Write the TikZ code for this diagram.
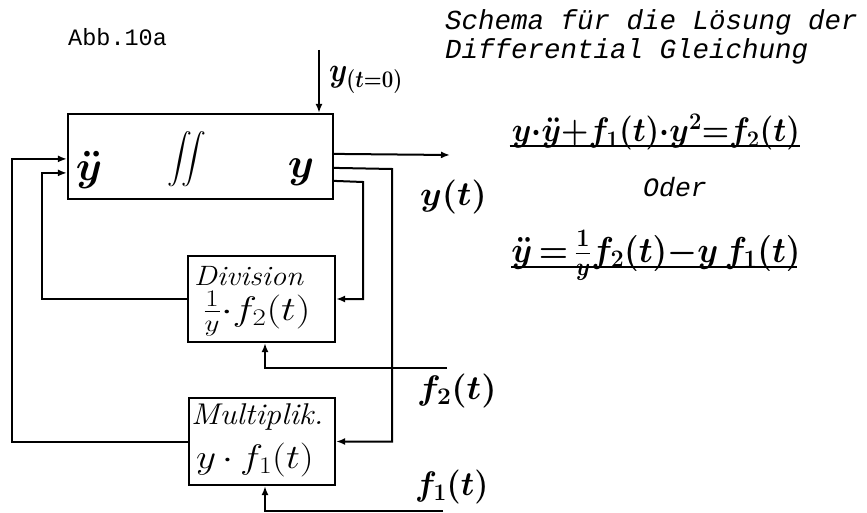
\RequirePackage{fix-cm}
\documentclass[tikz,border=0pt]{standalone}
\usepackage{amsmath}
\usepackage{graphicx}
\usepackage{fontspec}
\setmonofont{Liberation Mono}
\usetikzlibrary{arrows.meta,calc}
\newcommand{\hwx}[2]{\scalebox{#1}[1]{#2}}
\begin{document}
\begin{tikzpicture}[x=1pt,y=-1pt,
  blk/.style={draw, line width=2.2pt, inner sep=0pt},
  conn/.style={line width=2pt},
  arr/.style={conn, -{Latex[length=9pt,width=7pt]}},
  hand/.style={inner sep=0pt, font=\fontsize{34}{38}\selectfont\boldmath},
  thin/.style={inner sep=0pt, font=\fontsize{34}{38}\selectfont},
  big/.style={inner sep=0pt, font=\fontsize{42}{46}\selectfont\boldmath},
  monoup/.style={inner sep=0pt, anchor=west, font=\ttfamily\fontsize{23.5}{26}\selectfont},
  monoit/.style={inner sep=0pt, anchor=west, font=\ttfamily\itshape\fontsize{27.5}{30}\selectfont},
  uline/.style={line width=1.5pt}
  ]
\useasboundingbox (0,0) rectangle (867,513);

% blocks
\node[blk, minimum width=265pt, minimum height=85pt] (main) at (200.5,156.5) {};
\node[blk, minimum width=147pt, minimum height=86pt] (div) at (261.5,299) {};
\node[blk, minimum width=146pt, minimum height=87pt] (mult) at (262,441.5) {};

% block contents
\node[big] (ydd) at (89,170) {$\ddot{y}$};
\node[inner sep=0pt, font=\fontsize{30}{34}\selectfont\boldmath] (int) at (187,159) {$\displaystyle\iint$};
\node[big] (yo) at (301,172) {$y$};
\node[thin, anchor=west, font=\fontsize{28}{32}\selectfont] (divt) at (194,276) {\hwx{1.1}{\itshape Division}};
\node[thin, anchor=west] (divf) at (203,314) {\hwx{1.22}{$\frac{1}{y}{\cdot}f_2(t)$}};
\node[thin, anchor=west, font=\fontsize{30}{34}\selectfont] (multt) at (191,417) {\hwx{1.08}{\itshape Multiplik.}};
\node[thin, anchor=west] (multf) at (196,460) {\hwx{1.15}{$y\,{\cdot}\,f_1(t)$}};

% coordinates
\coordinate (t0) at (319,50);
\coordinate (inA) at ($(main.north west)+(0,46)$);
\coordinate (inB) at ($(main.north west)+(0,60)$);
\coordinate (outA) at ($(main.north east)+(0,41)$);
\coordinate (outB) at ($(main.north east)+(0,55)$);
\coordinate (outC) at ($(main.north east)+(0,68)$);
\coordinate (yout) at (450,155);
\coordinate (f2in) at (447,368);
\coordinate (f1in) at (443,511);

% connectors
\draw[arr] (t0) -- (t0 |- main.north);
\draw[arr] (outA) -- (yout);
\draw[arr] (mult.west) -- (12,441.5) |- (inA);
\draw[arr] (div.west) -- (42,299) |- (inB);
\draw[arr] (outC) -- (363,182) |- (div.east);
\draw[arr] (outB) -- (392,169) |- (mult.east);
\draw[arr] (f2in) -| ([xshift=3.5pt]div.south);
\draw[arr] (f1in) -| ([xshift=3pt]mult.south);

% labels
\node[hand, anchor=west] (ly0) at (329,80) {\hwx{0.86}{$y_{(t=0)}$}};
\node[hand, anchor=west] (lyt) at (420,197) {\hwx{1.02}{$y(t)$}};
\node[hand, anchor=west] (lf2) at (417,391) {\hwx{1.03}{$f_2(t)$}};
\node[hand, anchor=west] (lf1) at (415,487) {\hwx{0.95}{$f_1(t)$}};

% texts
\node[monoup] (abb) at (68,37) {Abb.10a};
\node[monoit] (title1) at (445,22) {Schema für die Lösung der};
\node[monoit] (title2) at (445,51) {Differential Gleichung};
\node[inner sep=0pt, font=\ttfamily\itshape\fontsize{26.5}{30}\selectfont] (oder) at (675,187) {Oder};

% equations
\node[hand, anchor=base] (eq1) at (656,142) {\hwx{0.92}{$y{\cdot}\ddot{y}{+}f_1(t){\cdot}y^2{=}f_2(t)$}};
\draw[uline] ([xshift=-2pt,yshift=-4pt]eq1.base west) -- ([xshift=0pt,yshift=-4pt]eq1.base east);
\node[hand, anchor=base, font=\fontsize{36}{40}\selectfont\boldmath] (eq2) at (656,262) {\hwx{0.93}{$\ddot{y}\,{=}\,\frac{1}{y}f_2(t){-}y\,f_1(t)$}};
\draw[uline] ([xshift=0pt,yshift=-5pt]eq2.base west) -- ([xshift=-4pt,yshift=-5pt]eq2.base east);
\end{tikzpicture}
\end{document}
